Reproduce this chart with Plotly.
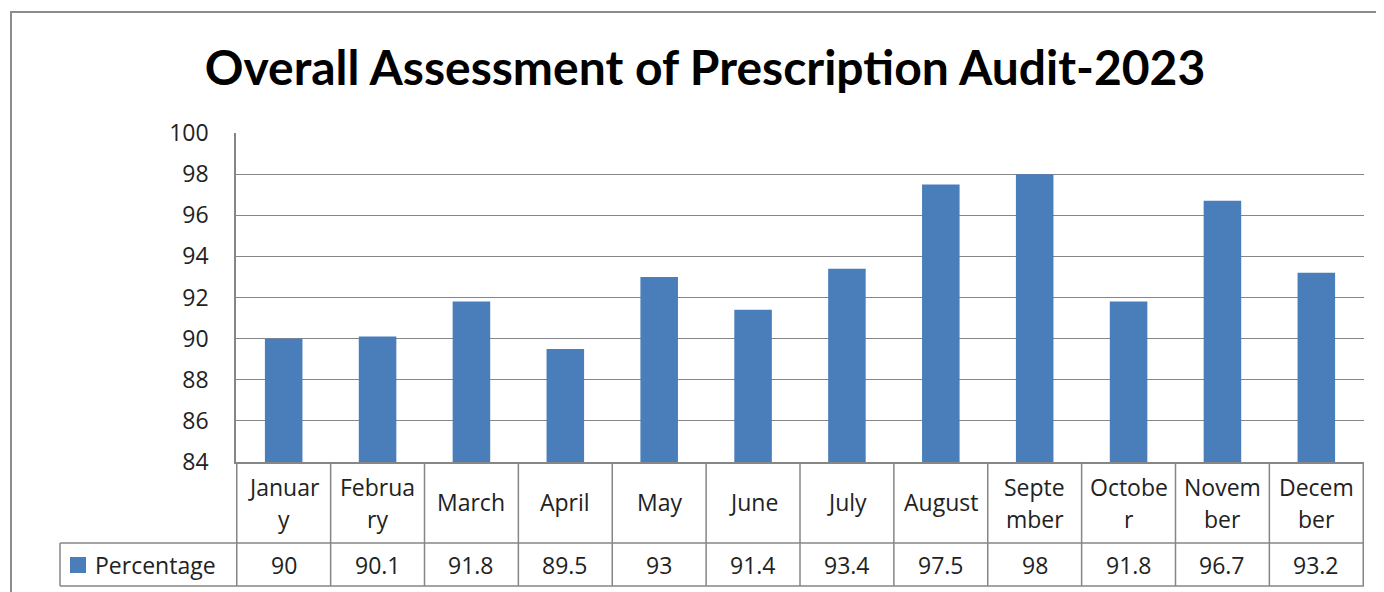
import plotly.graph_objects as go

# --------------------- Data
months = ["January", "February", "March", "April", "May", "June",
          "July", "August", "September", "October", "November", "December"]
# how the month names wrap inside the narrow table cells
month_lines = [["Januar", "y"], ["Februa", "ry"], ["March"], ["April"], ["May"],
               ["June"], ["July"], ["August"], ["Septe", "mber"], ["Octobe", "r"],
               ["Novem", "ber"], ["Decem", "ber"]]
percentage = [90, 90.1, 91.8, 89.5, 93, 91.4, 93.4, 97.5, 98, 91.8, 96.7, 93.2]
series_name = "Percentage"
y_ticks = [84, 86, 88, 90, 92, 94, 96, 98, 100]

# --------------------- Layout constants (page pixels; body margin is 8px)
OFF = 8
W, H = 1384 - OFF, 592 - OFF
L, R, T, B = 236 - OFF, 20, 133 - OFF, 130
PW, PH = W - L - R, H - T - B
BAR = "#4a7ebb"
LINE = "#868686"
FONT = "'Open Sans', sans-serif"


def px_x(x):
    return (x - OFF - L) / PW


def px_y(y):
    return (H - B - (y - OFF)) / PH


fig = go.Figure()
fig.add_trace(go.Bar(x=months, y=percentage, name=series_name,
                     marker=dict(color=BAR, line=dict(width=0)),
                     width=0.4, showlegend=False))

shapes = []
# outer chart border
shapes.append(dict(type="rect", xref="paper", yref="paper",
                   x0=px_x(11), x1=px_x(1420), y0=px_y(640), y1=px_y(12),
                   line=dict(color="#8c8c8c", width=2)))
# data table horizontal lines
for yy in [543, 586]:
    shapes.append(dict(type="line", xref="paper", yref="paper",
                       x0=px_x(60), x1=1, y0=px_y(yy), y1=px_y(yy),
                       line=dict(color=LINE, width=1.5)))
# data table vertical lines
for i in range(len(months) + 1):
    shapes.append(dict(type="line", xref="x", yref="paper",
                       x0=i - 0.5, x1=i - 0.5, y0=0, y1=px_y(586),
                       line=dict(color=LINE, width=1.5)))
shapes.append(dict(type="line", xref="paper", yref="paper",
                   x0=px_x(60), x1=px_x(60), y0=px_y(543), y1=px_y(586),
                   line=dict(color=LINE, width=1.5)))
# legend key
shapes.append(dict(type="rect", xref="paper", yref="paper",
                   x0=px_x(70), x1=px_x(86), y0=px_y(573), y1=px_y(557),
                   fillcolor=BAR, line=dict(width=0)))

annotations = []
txt = dict(size=23, color="#222", family=FONT)
for m, lines, v in zip(months, month_lines, percentage):
    if len(lines) == 1:
        annotations.append(dict(x=m, xref="x", y=px_y(502), yref="paper",
                                text=lines[0], showarrow=False, font=txt,
                                xanchor="center", yanchor="middle"))
    else:
        for ln, yy in zip(lines, [487, 519]):
            annotations.append(dict(x=m, xref="x", y=px_y(yy), yref="paper",
                                    text=ln, showarrow=False, font=txt,
                                    xanchor="center", yanchor="middle"))
    annotations.append(dict(x=m, xref="x", y=px_y(565), yref="paper",
                            text=str(v), showarrow=False, font=txt,
                            xanchor="center", yanchor="middle"))
annotations.append(dict(x=px_x(93), xref="paper", y=px_y(565), yref="paper",
                        text=series_name, showarrow=False, font=txt,
                        xanchor="left", yanchor="middle"))

fig.update_xaxes(showticklabels=False, showgrid=False, ticks="",
                 showline=True, linecolor=LINE, linewidth=1.5)
fig.update_yaxes(range=[84, 100], tickvals=y_ticks, showgrid=True,
                 gridcolor=LINE, gridwidth=1, showline=True, linecolor=LINE,
                 linewidth=1.5, zeroline=False, ticks="",
                 ticklabelstandoff=21, tickfont=dict(size=23, color="#222", family=FONT))

fig.update_layout(
    width=W, height=H,
    margin=dict(l=L, r=R, t=T, b=B),
    plot_bgcolor="white", paper_bgcolor="white",
    title=dict(text="<b>Overall Assessment of Prescription Audit-2023</b>",
               x=(705 - OFF) / W, xanchor="center",
               y=1 - (68 - OFF) / H, yanchor="middle",
               font=dict(size=48, color="black", family="Lato, sans-serif")),
    shapes=shapes, annotations=annotations,
    bargap=0.6,
)

fig.write_html("out.html")
